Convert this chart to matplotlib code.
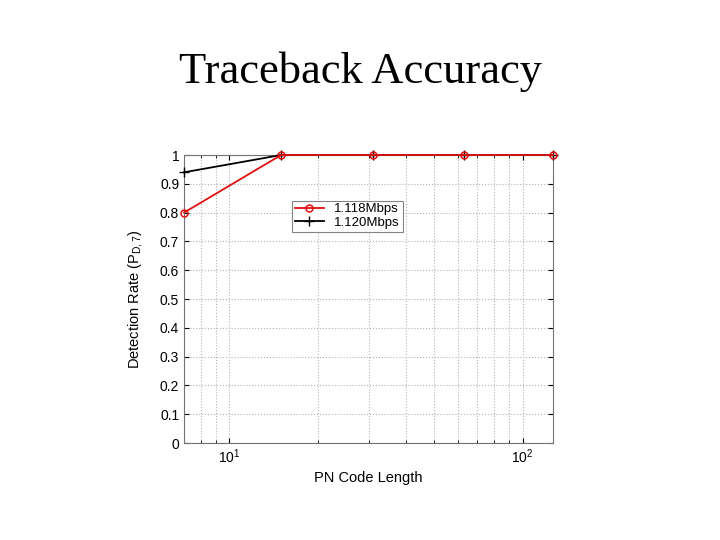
import matplotlib
matplotlib.use("Agg")
import matplotlib.pyplot as plt
from matplotlib.ticker import LogLocator, NullFormatter

pn_length = [7, 15, 31, 63, 127]
rate_1118 = [0.80, 1.0, 1.0, 1.0, 1.0]
rate_1120 = [0.94, 1.0, 1.0, 1.0, 1.0]
yticks = [0, 0.1, 0.2, 0.3, 0.4, 0.5, 0.6, 0.7, 0.8, 0.9, 1]
ytick_labels = ["0", "0.1", "0.2", "0.3", "0.4", "0.5", "0.6", "0.7", "0.8", "0.9", "1"]

plt.rcParams['font.family'] = ['Liberation Sans', 'DejaVu Sans']
fig = plt.figure(figsize=(7.2, 5.4), dpi=100)
fig.text(0.5, 0.868, "Traceback Accuracy", ha='center', va='center',
         family=['Liberation Serif'], fontsize=32)

ax = fig.add_axes([0.2556, 0.1796, 0.5125, 0.5333])
ax.plot(pn_length, rate_1120, color='black', marker='+', markersize=7,
        linewidth=1.3, label='1.120Mbps', zorder=3, clip_on=False)
ax.plot(pn_length, rate_1118, color='#e01010', marker='o', markersize=5,
        markerfacecolor='none', markeredgewidth=1.1, linewidth=1.3,
        label='1.118Mbps', zorder=4, clip_on=False)
ax.set_xscale('log')
ax.set_xlim(7, 127)
ax.set_ylim(0, 1)
ax.set_yticks(yticks)
ax.set_yticklabels(ytick_labels)
ax.xaxis.set_minor_locator(LogLocator(base=10, subs=range(2, 10)))
ax.xaxis.set_minor_formatter(NullFormatter())
ax.grid(True, which='major', linestyle=':', color='0.7', linewidth=0.8)
ax.grid(True, which='minor', axis='x', linestyle=':', color='0.7', linewidth=0.8)
ax.tick_params(direction='in', which='both', labelsize=10, top=True, right=True)
for s in ax.spines.values():
    s.set_color('0.45')
ax.set_xlabel("PN Code Length", fontsize=10.5, labelpad=3)
ax.set_ylabel(r"Detection Rate (P$_{\mathregular{D,7}}$)", fontsize=10.5, labelpad=10)

handles, labels = ax.get_legend_handles_labels()
leg = ax.legend(handles[::-1], labels[::-1], loc='upper left',
                bbox_to_anchor=(0.275, 0.865), fontsize=9.5, frameon=True,
                fancybox=False, edgecolor='0.4', handlelength=2.2,
                borderpad=0.2, labelspacing=0.1)
leg.get_frame().set_linewidth(0.8)

fig.savefig("out.png", dpi=100)
